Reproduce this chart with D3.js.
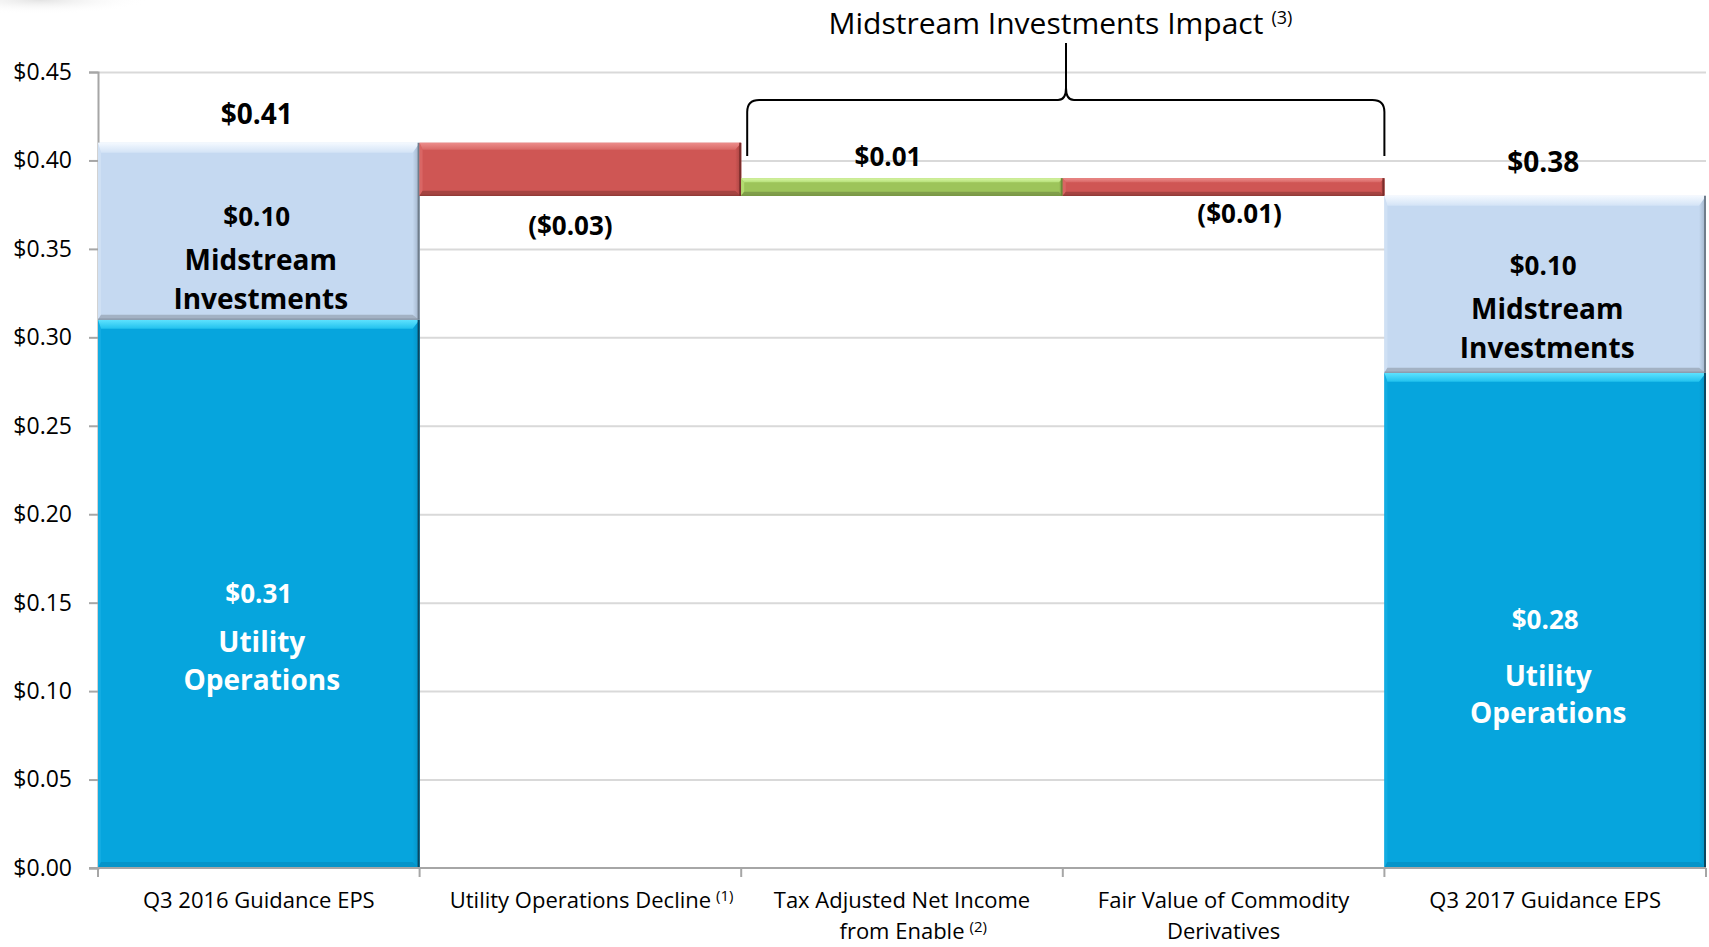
<!DOCTYPE html>
<html>
<head>
<meta charset="utf-8">
<script src="https://cdn.jsdelivr.net/npm/d3@7"></script>
<style>
  html, body { margin: 0; padding: 0; background: #fff; }
  svg { display: block; }
  text { font-family: "Open Sans", Lato, sans-serif; }
</style>
</head>
<body>
<svg id="chart" width="1709" height="947"></svg>
<script>
// ---------- data ----------
const categories = ["Q3 2016 Guidance EPS", "Utility Operations Decline", "Tax Adjusted Net Income from Enable", "Fair Value of Commodity Derivatives", "Q3 2017 Guidance EPS"];
const categoryLines = [["Q3 2016 Guidance EPS"], ["Utility Operations Decline"], ["Tax Adjusted Net Income", "from Enable"], ["Fair Value of Commodity", "Derivatives"], ["Q3 2017 Guidance EPS"]];
const categoryNotes = ["", "(1)", "(2)", "", ""];
const utilityOps = [0.31, null, null, null, 0.28];
const midstreamInv = [0.10, null, null, null, 0.10];
const changes = [null, -0.03, 0.01, -0.01, null];
const changeLabels = [null, "($0.03)", "$0.01", "($0.01)", null];
const totalLabels = ["$0.41", null, null, null, "$0.38"];
const utilityLabels = ["$0.31", null, null, null, "$0.28"];
const midstreamLabels = ["$0.10", null, null, null, "$0.10"];
const yTicks = [0, 0.05, 0.10, 0.15, 0.20, 0.25, 0.30, 0.35, 0.40, 0.45];
const yTickLabels = ["$0.00", "$0.05", "$0.10", "$0.15", "$0.20", "$0.25", "$0.30", "$0.35", "$0.40", "$0.45"];
const impactTitle = "Midstream Investments Impact";
const impactNote = "(3)";

// ---------- layout ----------
const svg = d3.select("#chart");
const L = 98, R = 1706, T = 72, B = 868;
const x = d3.scaleBand().domain(categories).range([L, R]).padding(0);
const y = d3.scaleLinear().domain([0, 0.45]).range([B, T]);

const pal = {
  util: { base: "#06a5dd", top0: "#5fe3ff", top1: "#22c2ee", left: "#12ace2", right: "#0591c4", bottom: "#0594c9", edge: "#0b4660" },
  mid:  { base: "#c5d9f1", top0: "#f4f9ff", top1: "#d3e3f6", left: "#cfe0f4", right: "#9eb0c6", bottom: "#a3b2c4", edge: "#6f7d8c" },
  red:  { base: "#cf5654", top0: "#ec8d8b", top1: "#d96866", left: "#d96664", right: "#a64341", bottom: "#a54341", edge: "#7a2d2b" },
  green:{ base: "#9dc45a", top0: "#d9f7a6", top1: "#b7e07a", left: "#b3dc70", right: "#7f9f46", bottom: "#809e4a", edge: "#6c8a3a" }
};

const defs = svg.append("defs");
// faint smudge top-left
const rg = defs.append("radialGradient").attr("id", "smudge");
rg.append("stop").attr("offset", "0%").attr("stop-color", "#dcdcdc").attr("stop-opacity", 0.8);
rg.append("stop").attr("offset", "100%").attr("stop-color", "#ffffff").attr("stop-opacity", 0);
svg.append("ellipse").attr("cx", 40).attr("cy", 0).attr("rx", 110).attr("ry", 14).attr("fill", "url(#smudge)");
Object.entries(pal).forEach(([k, p]) => {
  const lg = defs.append("linearGradient").attr("id", "top-" + k).attr("x1", 0).attr("y1", 0).attr("x2", 0).attr("y2", 1);
  lg.append("stop").attr("offset", "0%").attr("stop-color", p.top0);
  lg.append("stop").attr("offset", "100%").attr("stop-color", p.top1);
  const rgd = defs.append("linearGradient").attr("id", "right-" + k).attr("x1", 0).attr("y1", 0).attr("x2", 1).attr("y2", 0);
  rgd.append("stop").attr("offset", "0%").attr("stop-color", p.base);
  rgd.append("stop").attr("offset", "100%").attr("stop-color", p.right);
});

// gridlines
svg.append("g")
  .attr("transform", `translate(${L},0)`)
  .call(d3.axisLeft(y).tickValues(yTicks.slice(1)).tickSize(-(R - L)).tickFormat(""))
  .call(g => g.select(".domain").remove())
  .call(g => g.selectAll("line").attr("stroke", "#d9d9d9").attr("stroke-width", 2));

// y axis
svg.append("g")
  .attr("transform", `translate(${L},0)`)
  .call(d3.axisLeft(y).tickValues(yTicks).tickSize(9).tickPadding(17).tickFormat((d, i) => yTickLabels[i]))
  .call(g => g.select(".domain").attr("stroke", "#a6a6a6").attr("stroke-width", 2))
  .call(g => g.selectAll("line").attr("stroke", "#a6a6a6").attr("stroke-width", 2))
  .call(g => g.selectAll("text").attr("font-size", 23).attr("fill", "#000").attr("font-family", "'Open Sans', sans-serif"));

// bevel drawing
function bevel(g, key, x0, y0, w, h, s) {
  const p = pal[key];
  const gg = g.append("g");
  const { t, r, b, l } = s;
  gg.append("rect").attr("x", x0).attr("y", y0).attr("width", w).attr("height", h).attr("fill", p.base);
  const poly = (pts, fill) => gg.append("polygon").attr("points", pts.map(q => q.join(",")).join(" ")).attr("fill", fill);
  poly([[x0, y0], [x0 + l, y0 + t], [x0 + l, y0 + h - b], [x0, y0 + h]], p.left);
  poly([[x0 + w, y0], [x0 + w - r, y0 + t], [x0 + w - r, y0 + h - b], [x0 + w, y0 + h]], `url(#right-${key})`);
  poly([[x0, y0 + h], [x0 + w, y0 + h], [x0 + w - r, y0 + h - b], [x0 + l, y0 + h - b]], p.bottom);
  poly([[x0, y0], [x0 + w, y0], [x0 + w - r, y0 + t], [x0 + l, y0 + t]], `url(#top-${key})`);
  gg.append("line").attr("x1", x0 + w - 1).attr("x2", x0 + w - 1).attr("y1", y0).attr("y2", y0 + h)
    .attr("stroke", p.edge).attr("stroke-width", 2);
  gg.append("line").attr("x1", x0).attr("x2", x0 + w).attr("y1", y0 + h - 0.5).attr("y2", y0 + h - 0.5)
    .attr("stroke", p.edge).attr("stroke-width", 1).attr("stroke-opacity", 0.7);
}

const bars = svg.append("g");
let running = 0;
categories.forEach((c, i) => {
  const x0 = x(c), w = x.bandwidth();
  if (utilityOps[i] != null) {
    const u = utilityOps[i], m = midstreamInv[i];
    bevel(bars, "util", x0, y(u), w, y(0) - y(u), { t: 9, r: 7, b: 6, l: 3 });
    bevel(bars, "mid", x0, y(u + m), w, y(u) - y(u + m), { t: 10, r: 7, b: 5, l: 3 });
    running = u + m;
  } else {
    const d = changes[i];
    const lo = Math.min(running, running + d), hi = Math.max(running, running + d);
    const h = y(lo) - y(hi);
    const s = h > 30 ? { t: 7, r: 6, b: 5, l: 3 } : { t: 4, r: 4, b: 4, l: 3 };
    bevel(bars, d < 0 ? "red" : "green", x0, y(hi), w, h, s);
    running += d;
  }
});

// x axis line and boundary ticks
svg.append("g")
  .attr("transform", `translate(0,${B})`)
  .call(d3.axisBottom(x).tickSize(0).tickFormat(""))
  .call(g => g.select(".domain").attr("stroke", "#a6a6a6").attr("stroke-width", 2).attr("d", `M${L - 9},0H${R}`));
const bounds = categories.map(c => x(c)).concat([R]);
svg.append("g").selectAll("line").data(bounds).join("line")
  .attr("x1", d => d).attr("x2", d => d).attr("y1", B).attr("y2", B + 9)
  .attr("stroke", "#a6a6a6").attr("stroke-width", 2);

// category labels
const catG = svg.append("g");
categories.forEach((c, i) => {
  const cx = x(c) + x.bandwidth() / 2;
  const lines = categoryLines[i];
  lines.forEach((ln, j) => {
    const t = catG.append("text").attr("x", cx).attr("y", 908 + j * 31)
      .attr("text-anchor", "middle").attr("font-size", 22).attr("fill", "#000").text(ln);
    if (j === lines.length - 1 && categoryNotes[i]) {
      const wdt = t.node().getComputedTextLength();
      catG.append("text").attr("x", cx + wdt / 2 + 5).attr("y", 908 + j * 31 - 7)
        .attr("font-size", 15).attr("fill", "#000").text(categoryNotes[i]);
    }
  });
});

// labels on bars
const lab = svg.append("g").attr("text-anchor", "middle").attr("font-weight", "bold");
function addText(tx, ty, str, size, fill) {
  lab.append("text").attr("x", tx).attr("y", ty).attr("dy", "0.35em").attr("font-size", size).attr("fill", fill).text(str);
}
running = 0;
categories.forEach((c, i) => {
  const cx = x(c) + x.bandwidth() / 2;
  if (utilityOps[i] != null) {
    const u = utilityOps[i], m = midstreamInv[i];
    addText(cx - 2, y(u + m) - (i === 0 ? 29 : 34), totalLabels[i], 28, "#000");
    const my = (y(u) + y(u + m)) / 2 + (i === 0 ? 2 : -2);
    addText(cx - 2, my - 16, midstreamLabels[i], 26, "#000");
    addText(cx + 2, my + 27, "Midstream", 28, "#000");
    addText(cx + 2, my + 66, "Investments", 28, "#000");
    const uy = (y(u) + y(0)) / 2;
    addText(cx, uy, utilityLabels[i], 26, "#fff");
    addText(cx + 3, uy + (i === 0 ? 48 : 56), "Utility", 28, "#fff");
    addText(cx + 3, uy + (i === 0 ? 86 : 93), "Operations", 28, "#fff");
    running = u + m;
  } else {
    const d = changes[i];
    const hi = Math.max(running, running + d), lo = Math.min(running, running + d);
    if (d < 0) addText(cx - 10 + (i === 3 ? 26 : 0), y(lo) + (i === 1 ? 30 : 18), changeLabels[i], 26, "#000");
    else addText(cx - 14, y(hi) - 21, changeLabels[i], 26, "#000");
    running += d;
  }
});

// brace
const bx0 = x(categories[2]) + 6, bx1 = x(categories[3]) + x.bandwidth();
const bmid = 1066;
const by = 100, byBot = 156, btip = 43, r = 12;
const braceD = `M${bx0},${byBot} L${bx0},${by + r} Q${bx0},${by} ${bx0 + r},${by} L${bmid - 8},${by} Q${bmid},${by} ${bmid},${by - 12} L${bmid},${btip}` +
  ` M${bmid},${by - 12} Q${bmid},${by} ${bmid + 8},${by} L${bx1 - r},${by} Q${bx1},${by} ${bx1},${by + r} L${bx1},${byBot}`;
svg.append("path").attr("d", braceD).attr("fill", "none").attr("stroke", "#000").attr("stroke-width", 2);

const tt = svg.append("text").attr("x", 1046).attr("y", 23).attr("dy", "0.35em").attr("text-anchor", "middle")
  .attr("font-size", 30).attr("fill", "#000").text(impactTitle);
const tw = tt.node().getComputedTextLength();
svg.append("text").attr("x", 1046 + tw / 2 + 8).attr("y", 24).attr("font-size", 18).attr("fill", "#000").text(impactNote);
</script>
</body>
</html>
